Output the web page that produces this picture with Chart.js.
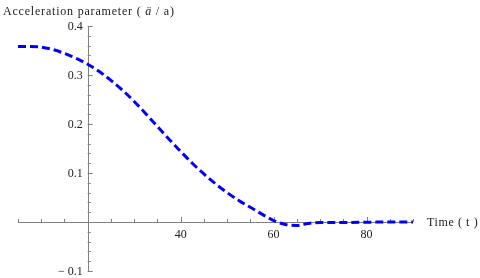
<!DOCTYPE html>
<html>
<head>
<meta charset="utf-8">
<script src="https://cdn.jsdelivr.net/npm/chart.js@4.4.1/dist/chart.umd.min.js"></script>
<style>
  html, body { margin: 0; padding: 0; background: #fff; }
  #wrap { width: 480px; height: 278px; }
</style>
</head>
<body>
<div id="wrap"><canvas id="chart"></canvas></div>
<script>
// curve: time t and acceleration parameter
const times = [5, 7.5, 10, 12.5, 15, 17.5, 20, 22.5, 25, 27.5, 30, 32.5, 35, 37.5, 40, 42.5, 45,
  47.5, 50, 52.5, 55, 57.5, 60, 62.5, 65, 67.5, 70, 75, 80, 85, 90];
const accel = [0.358, 0.358, 0.357, 0.352, 0.344, 0.334, 0.322, 0.307, 0.289, 0.269, 0.246, 0.221,
  0.195, 0.169, 0.144, 0.120, 0.098, 0.078, 0.060, 0.044, 0.030, 0.016, 0.003, -0.005, -0.007,
  -0.003, -0.001, -0.001, -0.0005, 0, 0];

const xTicks = [40, 60, 80];
const yTicks = [0.4, 0.3, 0.2, 0.1, -0.1];
const yTickLabels = ['0.4', '0.3', '0.2', '0.1', '\u2212 0.1'];
const xMinorStep = 5;
const yMinorStep = 0.02;
const xAxisTitle = 'Time ( t )';
const yAxisTitle = ['Acceleration parameter ( ', '\u00e4', ' / a)'];

const AXIS_X = 20; // where the vertical axis crosses
const AXIS_Y = 0;  // where the horizontal axis crosses

// draws Mathematica-like crossing axes with ticks on the inside
const crossAxes = {
    id: 'crossAxes',
    beforeDatasetsDraw(chart) {
        const ctx = chart.ctx;
        const xs = chart.scales.x;
        const ys = chart.scales.y;
        const x0 = xs.getPixelForValue(AXIS_X);
        const y0 = ys.getPixelForValue(AXIS_Y);
        ctx.save();
        ctx.strokeStyle = '#7f7f7f';
        ctx.lineWidth = 1;
        ctx.beginPath();
        ctx.moveTo(xs.left, Math.round(y0) + 0.5);
        ctx.lineTo(xs.right, Math.round(y0) + 0.5);
        ctx.moveTo(Math.round(x0) + 0.5, ys.top);
        ctx.lineTo(Math.round(x0) + 0.5, ys.bottom);
        // x ticks
        for (let v = xs.min; v <= xs.max + 1e-9; v += xMinorStep) {
            const px = Math.round(xs.getPixelForValue(v)) + 0.5;
            const major = Math.abs(v % 20) < 1e-9;
            ctx.moveTo(px, y0);
            ctx.lineTo(px, y0 - (major ? 5 : 3));
        }
        // y ticks
        for (let i = 0; ; i++) {
            const v = ys.min + i * yMinorStep;
            if (v > ys.max + 1e-9) break;
            const py = Math.round(ys.getPixelForValue(v)) + 0.5;
            const major = i % 5 === 0;
            ctx.moveTo(x0, py);
            ctx.lineTo(x0 + (major ? 5 : 3), py);
        }
        ctx.stroke();

        ctx.fillStyle = '#222';
        ctx.font = '12px "Liberation Serif", serif';
        ctx.textAlign = 'center';
        ctx.textBaseline = 'top';
        xTicks.forEach(v => ctx.fillText(String(v), xs.getPixelForValue(v), y0 + 7));
        ctx.textAlign = 'right';
        ctx.textBaseline = 'middle';
        yTicks.forEach((v, i) => ctx.fillText(yTickLabels[i], x0 - 5, ys.getPixelForValue(v) + 1));

        // axis titles
        ctx.textAlign = 'left';
        ctx.letterSpacing = '0.6px';
        ctx.fillText(xAxisTitle, xs.right + 14, y0 + 1);
        ctx.letterSpacing = '0.8px';
        let tx = 3;
        const ty = 12;
        yAxisTitle.forEach((part, i) => {
            ctx.font = (i === 1 ? 'italic ' : '') + '12px "Liberation Serif", serif';
            ctx.fillText(part, tx, ty);
            tx += ctx.measureText(part).width;
        });
        ctx.restore();
    }
};

new Chart(document.getElementById('chart'), {
    type: 'line',
    data: {
        datasets: [{
            data: times.map((t, i) => ({ x: t, y: accel[i] })),
            borderColor: '#0000ff',
            borderWidth: 3,
            borderDash: [8, 4],
            pointRadius: 0,
            cubicInterpolationMode: 'monotone',
            fill: false
        }]
    },
    options: {
        responsive: true,
        maintainAspectRatio: false,
        animation: false,
        layout: { padding: { left: 18, right: 67, top: 26, bottom: 7 } },
        plugins: { legend: { display: false }, tooltip: { enabled: false } },
        scales: {
            x: { type: 'linear', min: 5, max: 90, display: false },
            y: { type: 'linear', min: -0.1, max: 0.4, display: false }
        }
    },
    plugins: [crossAxes]
});
</script>
</body>
</html>
